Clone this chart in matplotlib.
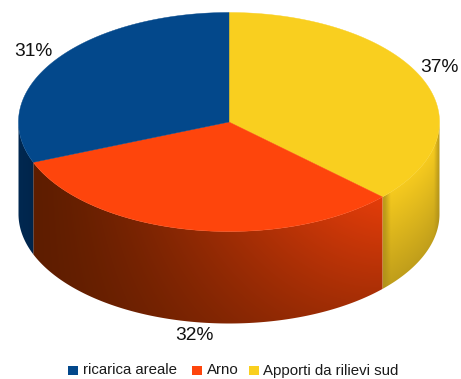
import numpy as np
import matplotlib
matplotlib.use("Agg")
import matplotlib.pyplot as plt
from matplotlib.patches import Polygon, Rectangle

plt.rcParams['font.family'] = ['Liberation Sans', 'DejaVu Sans']

# Share of each source, clockwise from twelve o'clock
categories = ["Apporti da rilievi sud", "Arno", "ricarica areale"]
shares = [37, 32, 31]
share_labels = ["37%", "32%", "31%"]
legend_order = ["ricarica areale", "Arno", "Apporti da rilievi sud"]

top_colors = {"Apporti da rilievi sud": "#f9cf1f", "Arno": "#fe450c", "ricarica areale": "#03488b"}

# Disc geometry in figure pixels
cx, cy, rx, ry, depth = 229.0, 122.0, 210.5, 109.5, 92.0


def rim(theta):
    return cx + rx * np.cos(theta), cy - ry * np.sin(theta)


def mix(dark, bright, m):
    dark, bright = np.array(dark), np.array(bright)
    return dark + (bright - dark) * np.clip(m, 0, 1)[..., None]


def wall_shade(name, x, v):
    """Shaded colour of the cylinder wall at pixel x and height fraction v (0 top, 1 bottom)."""
    if name == "Arno":
        t = np.clip((x - 37) / (384 - 37), 0, 1)
        return mix([0.37, 0.115, 0.0], [0.90, 0.24, 0.04], t ** 1.25 * (1 - 0.42 * v))
    if name == "ricarica areale":
        return mix([0.0, 0.14, 0.29], [0.0, 0.2, 0.38], np.clip((37 - x) / 19, 0, 1) * 0.3)
    edge = np.minimum(np.clip((x - 384) / 6, 0, 1), np.clip((438 - x) / 5, 0, 1))
    return mix([0.68, 0.56, 0.10], [0.96, 0.79, 0.12], (1 - 0.75 * v) * (0.25 + 0.75 * edge))


fig = plt.figure(figsize=(4.61, 3.79), dpi=100)
ax = fig.add_axes([0, 0, 1, 1])
ax.set_xlim(0, 461)
ax.set_ylim(379, 0)
ax.axis("off")

# Slice boundaries derived from the shares
fractions = np.cumsum([0] + shares) / sum(shares)
starts = np.pi / 2 - 2 * np.pi * fractions[:-1]
ends = np.pi / 2 - 2 * np.pi * fractions[1:]

# Pixel grid for the shaded wall
gx, gy = np.meshgrid(np.arange(0, 461) + 0.5, np.arange(0, 379) + 0.5)
rel = np.clip((gx - cx) / rx, -1, 1)
rim_y = cy + ry * np.sqrt(1 - rel ** 2)
height = np.clip((gy - rim_y) / depth, 0, 1)

# Front wall: one gradient image per slice, clipped to the slice outline
for name, a0, a1 in zip(categories, starts, ends):
    thetas = np.linspace(a0, a1, 300)
    thetas = thetas[np.sin(thetas) <= 0]
    if thetas.size == 0:
        continue
    xs, ys = rim(thetas)
    outline = np.column_stack([np.r_[xs, xs[::-1]], np.r_[ys, ys[::-1] + depth]])
    img = ax.imshow(wall_shade(name, gx, height), extent=(0, 461, 379, 0),
                    aspect="auto", interpolation="bilinear", zorder=1)
    img.set_clip_path(Polygon(outline, closed=True, transform=ax.transData))

# Top face
for name, a0, a1 in zip(categories, starts, ends):
    thetas = np.linspace(a0, a1, 200)
    xs, ys = rim(thetas)
    pts = np.column_stack([np.r_[cx, xs], np.r_[cy, ys]])
    ax.add_patch(Polygon(pts, closed=True, facecolor=top_colors[name],
                         edgecolor=top_colors[name], linewidth=0.3, zorder=2))

# Percentage labels
label_pos = [(439, 67), (194, 336), (33, 52)]
for text, (lx, ly) in zip(share_labels, label_pos):
    ax.text(lx, ly, text, fontsize=13.8, color="#111111", ha="center", va="center", zorder=3)

# Legend row
marker_x = [68, 192, 249]
text_x = [83, 207, 263]
for name, mx, tx in zip(legend_order, marker_x, text_x):
    ax.add_patch(Rectangle((mx, 365.5), 9.5, 9.5, facecolor=top_colors[name], edgecolor="none", zorder=3))
    ax.text(tx, 370.5, name, fontsize=10.8, color="#1a1a1a", ha="left", va="center", zorder=3)

fig.savefig("out.png", dpi=100)
